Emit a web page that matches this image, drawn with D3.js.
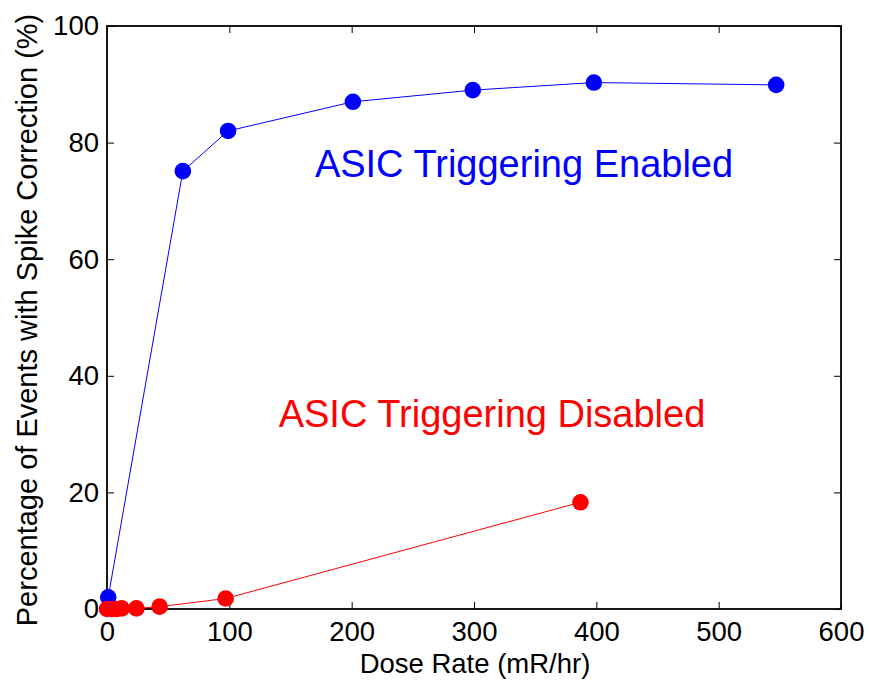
<!DOCTYPE html>
<html><head><meta charset="utf-8">
<script src="https://cdn.jsdelivr.net/npm/d3@7/dist/d3.min.js"></script>
<style>body{margin:0;background:#fff}svg{display:block}text{font-family:"Liberation Sans",Arial,sans-serif}</style>
</head><body><svg id="c" width="869" height="684"></svg>
<script>
const enabledX = [1, 62, 99, 201, 299, 398, 547];
const enabledY = [2.0, 75.1, 82.0, 87.0, 89.0, 90.3, 89.9];
const disabledX = [0, 4, 8, 12, 24, 43, 97, 387];
const disabledY = [0, 0, 0, 0.1, 0.1, 0.4, 1.8, 18.3];
const xTicks = [0, 100, 200, 300, 400, 500, 600];
const yTicks = [0, 20, 40, 60, 80, 100];

const svg = d3.select("#c");
const L = 107, R = 841, T = 26, B = 609;
const x = d3.scaleLinear().domain([0, 600]).range([L, R]);
const y = d3.scaleLinear().domain([0, 100]).range([B, T]);

const tickLen = 7;
const axB = svg.append("g").attr("transform", `translate(0,${B})`)
  .call(d3.axisBottom(x).tickValues(xTicks).tickSize(-tickLen).tickPadding(12));
const axT = svg.append("g").attr("transform", `translate(0,${T})`)
  .call(d3.axisTop(x).tickValues(xTicks).tickSize(-tickLen).tickFormat(""));
const axL = svg.append("g").attr("transform", `translate(${L},0)`)
  .call(d3.axisLeft(y).tickValues(yTicks).tickSize(-tickLen).tickPadding(8));
const axR = svg.append("g").attr("transform", `translate(${R},0)`)
  .call(d3.axisRight(y).tickValues(yTicks).tickSize(-tickLen).tickFormat(""));
[axB, axT, axL, axR].forEach(a => {
  a.select(".domain").remove();
  a.selectAll("line").attr("stroke", "#000").attr("stroke-width", 1);
  a.selectAll("text").attr("font-size", 27.5).attr("fill", "#000")
    .attr("font-family", '"Liberation Sans",Arial,sans-serif');
});
svg.append("rect").attr("x", L).attr("y", T).attr("width", R - L).attr("height", B - T)
  .attr("fill", "none").attr("stroke", "#000").attr("stroke-width", 1.8);

function series(xs, ys, color) {
  const pts = xs.map((d, i) => [d, ys[i]]);
  svg.append("path").datum(pts)
    .attr("d", d3.line().x(d => x(d[0])).y(d => y(d[1])))
    .attr("fill", "none").attr("stroke", color).attr("stroke-width", 1);
  svg.append("g").selectAll("circle").data(pts).join("circle")
    .attr("cx", d => x(d[0])).attr("cy", d => y(d[1])).attr("r", 8.3).attr("fill", color);
}
series(enabledX, enabledY, "#0000ff");
series(disabledX, disabledY, "#ff0000");

svg.append("text").attr("x", 524).attr("y", 177).attr("text-anchor", "middle")
  .attr("font-size", 38).attr("fill", "#0000ff").text("ASIC Triggering Enabled");
svg.append("text").attr("x", 492).attr("y", 427).attr("text-anchor", "middle")
  .attr("font-size", 38).attr("fill", "#ff0000").text("ASIC Triggering Disabled");

svg.append("text").attr("x", 475).attr("y", 673).attr("text-anchor", "middle")
  .attr("font-size", 27.5).attr("fill", "#000").text("Dose Rate (mR/hr)");
svg.append("text").attr("transform", `translate(37,320) rotate(-90)`)
  .attr("text-anchor", "middle").attr("font-size", 29).attr("fill", "#000")
  .text("Percentage of Events with Spike Correction (%)");
</script></body></html>
